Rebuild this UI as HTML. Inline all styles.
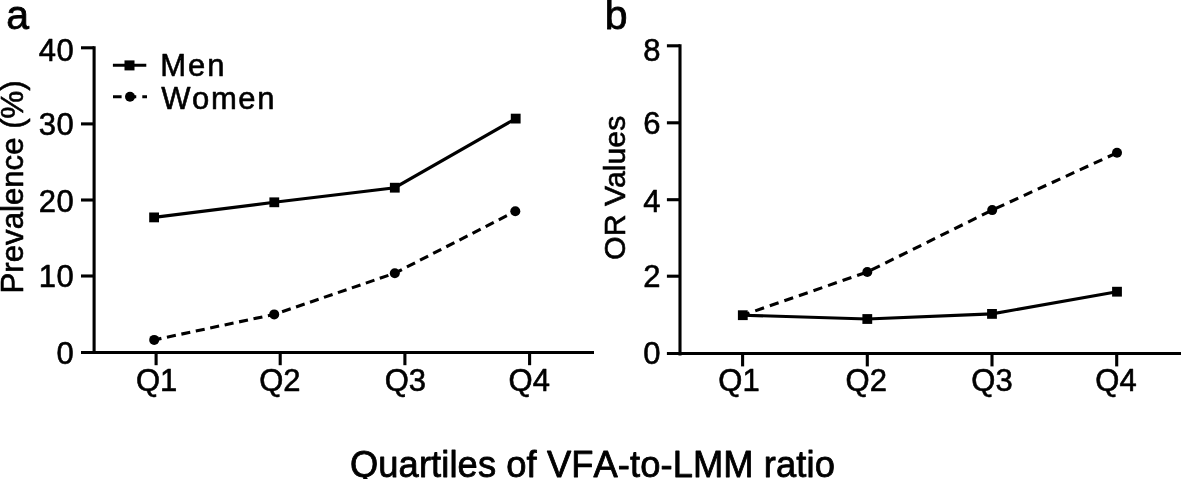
<!DOCTYPE html>
<html lang="en"><head><meta charset="utf-8"><title>Figure</title>
<style>
html,body{margin:0;padding:0;background:#fff;}
body{width:1181px;height:479px;overflow:hidden;}
svg{display:block;filter:grayscale(1);}
</style></head><body>
<svg width="1181" height="479" viewBox="0 0 1181 479">
<rect width="1181" height="479" fill="#fff"/>
<g stroke="#000" stroke-width="3.1" fill="none" stroke-linecap="butt">
<line x1="94.1" y1="46.25" x2="94.1" y2="354.05" />
<line x1="81" y1="352.5" x2="594.0" y2="352.5" />
<line x1="81" y1="47.8" x2="94.1" y2="47.8" />
<line x1="81" y1="123.9" x2="94.1" y2="123.9" />
<line x1="81" y1="200.0" x2="94.1" y2="200.0" />
<line x1="81" y1="276.0" x2="94.1" y2="276.0" />
<line x1="156.1" y1="352.5" x2="156.1" y2="365.2" />
<line x1="280.2" y1="352.5" x2="280.2" y2="365.2" />
<line x1="404.9" y1="352.5" x2="404.9" y2="365.2" />
<line x1="529.6" y1="352.5" x2="529.6" y2="365.2" />
<line x1="680.0" y1="44.25" x2="680.0" y2="355.4" />
<line x1="666.9" y1="353.5" x2="1181" y2="353.5" />
<line x1="666.9" y1="45.8" x2="680.0" y2="45.8" />
<line x1="666.9" y1="122.8" x2="680.0" y2="122.8" />
<line x1="666.9" y1="199.7" x2="680.0" y2="199.7" />
<line x1="666.9" y1="276.2" x2="680.0" y2="276.2" />
<line x1="742.6" y1="353.5" x2="742.6" y2="366.4" />
<line x1="867.3" y1="353.5" x2="867.3" y2="366.4" />
<line x1="992.0" y1="353.5" x2="992.0" y2="366.4" />
<line x1="1116.7" y1="353.5" x2="1116.7" y2="366.4" />
</g>
<g stroke="#000" stroke-width="3.1" fill="none">
<polyline points="154.2,339.9 274.2,314.4 394.8,273.2 515.3,211.3" stroke-dasharray="9.1 5.65" stroke-dashoffset="1.74"/>
<polyline points="742.8,315.2 867.3,272.0 992.2,210.1 1117.0,152.8" stroke-dasharray="9.3 6.11" stroke-dashoffset="2.25"/>
<polyline points="154.1,217.4 274.3,202.3 394.8,187.7 515.7,118.6" />
<polyline points="742.8,315.2 867.3,319.0 992.0,313.9 1117.0,291.7" />
<line x1="112.9" y1="65.2" x2="146.3" y2="65.2" />
<line x1="113.0" y1="96.7" x2="147.0" y2="96.7" stroke-dasharray="8.6 6.05"/>
</g>
<g fill="#000" stroke="none">
<circle cx="154.2" cy="339.9" r="5.0"/>
<circle cx="274.2" cy="314.4" r="5.0"/>
<circle cx="394.8" cy="273.2" r="5.0"/>
<circle cx="515.3" cy="211.3" r="5.0"/>
<circle cx="867.3" cy="272.0" r="5.0"/>
<circle cx="992.2" cy="210.1" r="5.0"/>
<circle cx="1117.0" cy="152.8" r="5.0"/>
<rect x="149.20" y="212.50" width="9.8" height="9.8"/>
<rect x="269.40" y="197.40" width="9.8" height="9.8"/>
<rect x="389.90" y="182.80" width="9.8" height="9.8"/>
<rect x="510.80" y="113.70" width="9.8" height="9.8"/>
<rect x="737.90" y="310.30" width="9.8" height="9.8"/>
<rect x="862.40" y="314.10" width="9.8" height="9.8"/>
<rect x="987.10" y="309.00" width="9.8" height="9.8"/>
<rect x="1112.10" y="286.80" width="9.8" height="9.8"/>
<rect x="124.50" y="60.40" width="10.0" height="10.0"/>
<circle cx="130.0" cy="96.7" r="5.0"/>
</g>
<g fill="#000" stroke="#000" stroke-width="0.6" stroke-linejoin="round" font-family='"Liberation Sans", Arial, Helvetica, sans-serif' style="font-kerning:none;font-variant-ligatures:none">
<text x="6.2" y="29.0" font-size="41" text-anchor="start" stroke-width="0.8">a</text>
<text x="604.7" y="29.2" font-size="41" text-anchor="start" stroke-width="0.8">b</text>
<text x="74.2" y="60.8" font-size="31" text-anchor="end" letter-spacing="0.5">40</text>
<text x="74.2" y="134.95" font-size="31" text-anchor="end" letter-spacing="0.5">30</text>
<text x="74.2" y="211.75" font-size="31" text-anchor="end" letter-spacing="0.5">20</text>
<text x="74.2" y="286.75" font-size="31" text-anchor="end" letter-spacing="0.5">10</text>
<text x="74.2" y="363.95" font-size="31" text-anchor="end" letter-spacing="0.5">0</text>
<text x="660.6" y="60.95" font-size="31" text-anchor="end" >8</text>
<text x="660.6" y="134.45" font-size="31" text-anchor="end" >6</text>
<text x="660.6" y="211.85" font-size="31" text-anchor="end" >4</text>
<text x="660.6" y="286.65" font-size="31" text-anchor="end" >2</text>
<text x="660.6" y="363.85" font-size="31" text-anchor="end" >0</text>
<text x="156.6" y="391.2" font-size="31" text-anchor="middle" >Q1</text>
<text x="279.9" y="391.2" font-size="31" text-anchor="middle" >Q2</text>
<text x="405.4" y="391.2" font-size="31" text-anchor="middle" >Q3</text>
<text x="529.3" y="391.2" font-size="31" text-anchor="middle" >Q4</text>
<text x="739.0" y="391.2" font-size="31" text-anchor="middle" >Q1</text>
<text x="866.2" y="391.2" font-size="31" text-anchor="middle" >Q2</text>
<text x="992.0" y="391.2" font-size="31" text-anchor="middle" >Q3</text>
<text x="1116.0" y="391.2" font-size="31" text-anchor="middle" >Q4</text>
<text x="160.3" y="76.4" font-size="31" text-anchor="start" letter-spacing="1.9">Men</text>
<text x="161.2" y="108.5" font-size="31" text-anchor="start" letter-spacing="1.6">Women</text>
<text x="350.0" y="477.0" font-size="36.3" text-anchor="start" letter-spacing="0.1" stroke-width="0.8">Quartiles of VFA-to-LMM ratio</text>
<text transform="translate(23.2,293.5) rotate(-90)" font-size="31.2">Prevalence (%)</text>
<text transform="translate(625.2,259.9) rotate(-90)" font-size="30.3" style="font-kerning:normal">OR Values</text>
</g>
</svg>
</body></html>
